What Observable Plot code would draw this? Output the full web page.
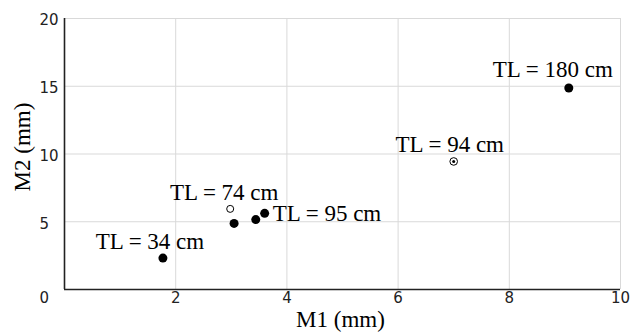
<!DOCTYPE html>
<html>
<head>
<meta charset="utf-8">
<script src="https://cdn.jsdelivr.net/npm/d3@7"></script>
<script src="https://cdn.jsdelivr.net/npm/@observablehq/plot@0.6"></script>
<style>
  html, body { margin: 0; padding: 0; background: #fff; }
  #chart svg { display: block; }
</style>
</head>
<body>
<div id="chart"></div>
<script>
// Data
const m1 = [1.77, 2.98, 3.05, 3.44, 3.60, 7.00, 9.07];
const m2 = [2.32, 5.95, 4.88, 5.16, 5.62, 9.45, 14.87];
const markerType = ["filled", "hollow", "filled", "filled", "filled", "bullseye", "filled"];
const tlLabels = ["TL = 34 cm", "TL = 74 cm", null, null, "TL = 95 cm", "TL = 94 cm", "TL = 180 cm"];
const xTicks = [2, 4, 6, 8, 10];
const yTicks = [5, 10, 15, 20];

// label placement offsets (pixels) relative to each labelled point
const labelDx = [-13, -6, 0, 0, 8, -4, -16];
const labelDy = [-16, -16, 0, 0, 0, -17, -18];
const labelAnchor = ["middle", "middle", "middle", "middle", "start", "middle", "middle"];

const pts = m1.map((x, i) => ({x, y: m2[i], type: markerType[i], label: tlLabels[i], dx: labelDx[i], dy: labelDy[i], anchor: labelAnchor[i]}));
const labelled = pts.filter(d => d.label);

const serif = "'Liberation Serif', 'Times New Roman', serif";
const sans = "'DejaVu Sans', Verdana, sans-serif";

const textMarks = labelled.map(d =>
  Plot.text([d], {x: "x", y: "y", text: "label", dx: d.dx, dy: d.dy, textAnchor: d.anchor, lineAnchor: "middle",
    fontFamily: serif, fontSize: 23, fill: "#000"})
);

const plot = Plot.plot({
  width: 631,
  height: 334,
  marginLeft: 64,
  marginRight: 11,
  marginTop: 18,
  marginBottom: 45,
  x: {domain: [0, 10]},
  y: {domain: [0, 20]},
  style: {background: "#fff"},
  marks: [
    Plot.gridX(xTicks, {stroke: "#d9d9d9", strokeOpacity: 1, strokeWidth: 1}),
    Plot.gridY(yTicks, {stroke: "#d9d9d9", strokeOpacity: 1, strokeWidth: 1}),
    Plot.axisX(xTicks, {tickSize: 0, tickPadding: 3, fontSize: 15, fontFamily: sans, fill: "#222", label: null}),
    Plot.axisY(yTicks, {tickSize: 0, tickPadding: 0, textAnchor: "start", dx: -25, dy: 2, fontSize: 15, fontFamily: sans, fill: "#222", label: null}),
    Plot.axisY([0], {tickSize: 0, tickPadding: 0, textAnchor: "start", dx: -25, dy: 9, fontSize: 15, fontFamily: sans, fill: "#222", label: null}),
    Plot.ruleX([0], {stroke: "#222", strokeWidth: 1.6}),
    Plot.ruleY([0], {stroke: "#222", strokeWidth: 1.6}),
    Plot.dot(pts.filter(d => d.type === "filled"), {x: "x", y: "y", r: 4.5, fill: "#000", stroke: "none"}),
    Plot.dot(pts.filter(d => d.type === "hollow"), {x: "x", y: "y", r: 3.5, fill: "#fff", stroke: "#000", strokeWidth: 1}),
    Plot.dot(pts.filter(d => d.type === "bullseye"), {x: "x", y: "y", r: 3.8, fill: "#fff", stroke: "#000", strokeWidth: 1}),
    Plot.dot(pts.filter(d => d.type === "bullseye"), {x: "x", y: "y", r: 1.5, fill: "#000", stroke: "none"}),
    ...textMarks,
    Plot.text(["M1 (mm)"], {frameAnchor: "bottom", textAnchor: "middle", lineAnchor: "middle", dx: -2, dy: 30, fontFamily: serif, fontSize: 23, fill: "#000"}),
    Plot.text(["M2 (mm)"], {frameAnchor: "left", textAnchor: "middle", lineAnchor: "middle", rotate: -90, dx: -42, dy: -7, fontFamily: serif, fontSize: 23, fill: "#000"})
  ]
});
document.getElementById("chart").appendChild(plot);
</script>
</body>
</html>
